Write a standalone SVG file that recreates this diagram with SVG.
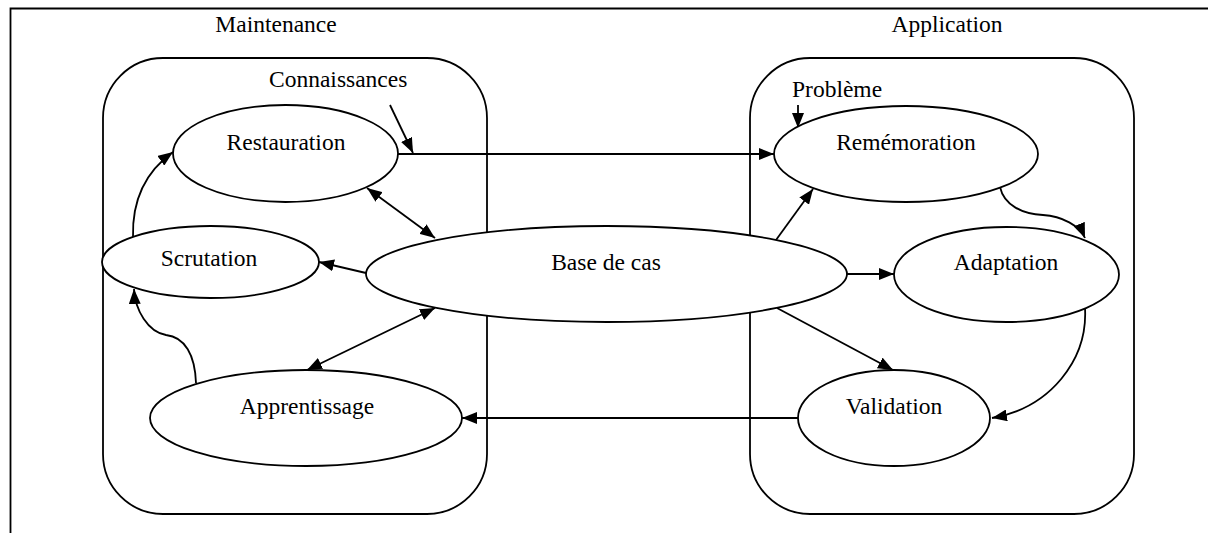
<svg xmlns="http://www.w3.org/2000/svg" width="1208" height="533" viewBox="0 0 1208 533">
<style>
  text { font-family: "Liberation Serif", "Times New Roman", serif; font-size: 23.5px; fill: #000; }
  .c { text-anchor: middle; }
  .box { fill: none; stroke: #000; stroke-width: 1.8; }
  .node ellipse { fill: #fff; stroke: #000; stroke-width: 1.8; }
  .edge { fill: none; stroke: #000; stroke-width: 1.8; marker-end: url(#ah); }
  .both { marker-start: url(#ah); }
</style>
<defs>
  <marker id="ah" viewBox="0 0 15 12" refX="15" refY="6" markerWidth="15" markerHeight="12" markerUnits="userSpaceOnUse" orient="auto-start-reverse">
    <path d="M0,0 L15,6 L0,12 z" fill="#000"/>
  </marker>
</defs>
<rect width="1208" height="533" fill="#fff"/>
<g id="frame">
  <path d="M10.5,533 V8.5 H1208" class="box"/>
  <text x="276" y="32" class="c">Maintenance</text>
  <text x="947" y="32" class="c">Application</text>
</g>
<g id="maintenance">
  <rect x="103" y="58" width="384" height="456" rx="60" ry="60" class="box"/>
</g>
<g id="application">
  <rect x="750" y="58" width="384" height="456" rx="60" ry="60" class="box"/>
</g>
<g id="connectors">
  <path class="edge" d="M390,105 L413,153"/>
  <path class="edge" d="M398,154 L774,154"/>
  <path class="edge" d="M798,105 L798,128"/>
  <path class="edge" d="M776,240 L813,189"/>
  <path class="edge" d="M847,274 L894,274"/>
  <path class="edge" d="M777,308 L893,370"/>
  <path class="edge" d="M1000,187 C1004,205 1022,214 1043,215 C1062,216 1080,226 1085,238"/>
  <path class="edge" d="M1085,308 C1088,360 1050,408 992,418"/>
  <path class="edge" d="M798,418 L462,418"/>
  <path class="edge both" d="M367,188 L435,238"/>
  <path class="edge" d="M366,273 L319,262"/>
  <path class="edge both" d="M307,370 L435,308"/>
  <path class="edge" d="M196,383 C195,355 185,337 166,335 C148,332 135,310 134,289"/>
  <path class="edge" d="M133,237 C132,200 145,172 173,152"/>
</g>
<g id="labels">
  <text x="269" y="87">Connaissances</text>
  <text x="792" y="97">Problème</text>
</g>
<g id="restauration" class="node">
  <ellipse cx="285.5" cy="153.5" rx="112.5" ry="48.5"/>
  <text x="286" y="150" class="c">Restauration</text>
</g>
<g id="scrutation" class="node">
  <ellipse cx="210.5" cy="262" rx="108.5" ry="36"/>
  <text x="209" y="266" class="c">Scrutation</text>
</g>
<g id="apprentissage" class="node">
  <ellipse cx="306" cy="418" rx="156" ry="48"/>
  <text x="307" y="414" class="c">Apprentissage</text>
</g>
<g id="base" class="node">
  <ellipse cx="606.5" cy="274" rx="240.5" ry="48"/>
  <text x="606" y="270" class="c">Base de cas</text>
</g>
<g id="rememoration" class="node">
  <ellipse cx="906" cy="154" rx="132" ry="48"/>
  <text x="906" y="150" class="c">Remémoration</text>
</g>
<g id="adaptation" class="node">
  <ellipse cx="1006.5" cy="274.5" rx="112.5" ry="47.5"/>
  <text x="1006" y="270" class="c">Adaptation</text>
</g>
<g id="validation" class="node">
  <ellipse cx="894" cy="418" rx="96" ry="48"/>
  <text x="894" y="414" class="c">Validation</text>
</g>
</svg>
